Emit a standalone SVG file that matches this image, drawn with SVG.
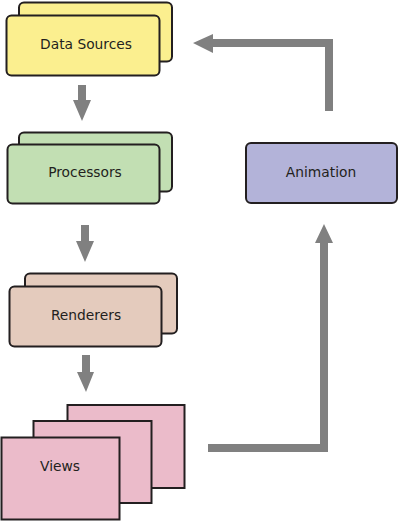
<svg xmlns="http://www.w3.org/2000/svg" width="400" height="522" viewBox="0 0 400 522">
<style>
.box{stroke:#231f20;stroke-width:2}
.y{fill:#fbef8f}.g{fill:#c2dfb3}.b{fill:#e4cbbd}.p{fill:#ebbbca}.v{fill:#b3b3d9}
text{font-family:"DejaVu Sans",Verdana,sans-serif;font-size:13.8px;fill:#231f20;text-anchor:middle}
.arr{fill:#808080}
</style>
<rect width="400" height="522" fill="#fff"/>
<g id="data-sources">
<rect class="box y" x="19" y="2.5" width="153" height="59" rx="5"/>
<rect class="box y" x="6.5" y="15.5" width="153" height="60" rx="5"/>
<text x="86" y="49">Data Sources</text>
</g>
<g id="processors">
<rect class="box g" x="19" y="132.5" width="153" height="59" rx="5"/>
<rect class="box g" x="7.5" y="144.5" width="152" height="59" rx="5"/>
<text x="85" y="177">Processors</text>
</g>
<g id="renderers">
<rect class="box b" x="25" y="273.5" width="152" height="60" rx="5"/>
<rect class="box b" x="9.5" y="286.5" width="152" height="60" rx="5"/>
<text x="86" y="320">Renderers</text>
</g>
<g id="views">
<rect class="box p" x="67.5" y="405" width="117" height="83"/>
<rect class="box p" x="33.5" y="421" width="118" height="82"/>
<rect class="box p" x="1.5" y="437.5" width="118" height="82"/>
<text x="60" y="471">Views</text>
</g>
<g id="animation">
<rect class="box v" x="246" y="143" width="151" height="60" rx="5"/>
<text x="321" y="177">Animation</text>
</g>
<g id="connectors">
<polygon class="arr" points="78,85 86,85 86,100 91,100 82,121 73,100 78,100"/>
<polygon class="arr" points="81,225 89,225 89,241 94,241 85,262 76,241 81,241"/>
<polygon class="arr" points="82,355 90,355 90,372 94,372 86,392 77,372 82,372"/>
<polygon class="arr" points="333,39 333,111 325,111 325,47 213,47 213,53 193,43 213,34 213,39"/>
<polygon class="arr" points="208,444 320,444 320,243 315,243 324,224 333,243 328,243 328,452 208,452"/>
</g>
</svg>
